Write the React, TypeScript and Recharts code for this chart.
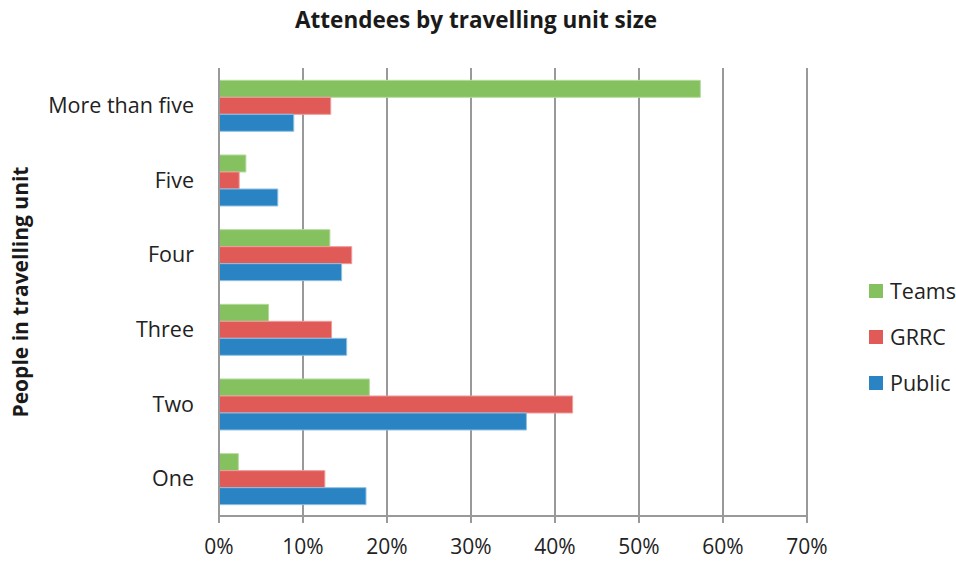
import React from 'react';
import { BarChart, Bar, XAxis, YAxis, CartesianGrid } from 'recharts';

const categories = ['More than five', 'Five', 'Four', 'Three', 'Two', 'One'];
const teams = [57.3, 3.2, 13.2, 5.9, 17.9, 2.3];
const grrc = [13.3, 2.4, 15.8, 13.4, 42.1, 12.6];
const publicVals = [8.9, 7.0, 14.6, 15.2, 36.6, 17.5];
const xTicks = [0, 10, 20, 30, 40, 50, 60, 70];

const seriesNames = ['Teams', 'GRRC', 'Public'];
const seriesColors = ['#86C160', '#E05A57', '#2A84C3'];
const seriesStrokes = ['#B4DA9C', '#EE9C9A', '#8FC0E2'];

const data = categories.map((c, i) => ({
  name: c,
  Teams: teams[i],
  GRRC: grrc[i],
  Public: publicVals[i],
}));

const FONT = '"Open Sans", sans-serif';

export default function App() {
  return (
    <div style={{ position: 'absolute', left: 0, top: 0, width: 956, height: 561, background: '#fff' }}>
      <div
        style={{
          position: 'absolute',
          left: 0,
          top: 4,
          width: 952,
          textAlign: 'center',
          fontFamily: FONT,
          fontWeight: 700,
          fontSize: 22.5,
          lineHeight: '32px',
          color: '#1a1a1a',
        }}
      >
        Attendees by travelling unit size
      </div>
      <BarChart
        width={956}
        height={561}
        data={data}
        layout="vertical"
        margin={{ top: 68, right: 149, bottom: 15, left: 0 }}
        barCategoryGap="16.5%"
        barGap={0}
      >
        <CartesianGrid horizontal={false} stroke="#999" strokeWidth={2} />
        <XAxis
          type="number"
          domain={[0, 70]}
          ticks={xTicks}
          tickFormatter={(v: number) => `${v}%`}
          axisLine={{ stroke: '#999', strokeWidth: 2 }}
          tickLine={{ stroke: '#999', strokeWidth: 2 }}
          tickSize={7}
          tickMargin={16}
          height={30}
          tick={{ fontFamily: FONT, fontSize: 21, fill: '#222' }}
          interval={0}
        />
        <YAxis
          type="category"
          dataKey="name"
          width={219}
          axisLine={{ stroke: '#999', strokeWidth: 2 }}
          tickLine={false}
          tickSize={0}
          tickMargin={25}
          tick={{ fontFamily: FONT, fontSize: 21.5, fill: '#222' }}
          interval={0}
          label={{
            value: 'People in travelling unit',
            angle: -90,
            position: 'insideLeft',
            offset: 21,
            style: { fontFamily: FONT, fontWeight: 700, fontSize: 21, fill: '#1a1a1a', textAnchor: 'middle' },
          }}
        />
        {seriesNames.map((n, i) => (
          <Bar
            key={n}
            dataKey={n}
            fill={seriesColors[i]}
            stroke={seriesStrokes[i]}
            strokeWidth={1}
            isAnimationActive={false}
          />
        ))}
      </BarChart>
      <div style={{ position: 'absolute', left: 869, top: 268, fontFamily: FONT }}>
        {seriesNames.map((n, i) => (
          <div key={n} style={{ display: 'flex', alignItems: 'center', height: 46 }}>
            <div style={{ width: 14, height: 14, background: seriesColors[i], marginRight: 7 }} />
            <span style={{ fontSize: 21.5, color: '#222', lineHeight: '24px' }}>{n}</span>
          </div>
        ))}
      </div>
    </div>
  );
}
